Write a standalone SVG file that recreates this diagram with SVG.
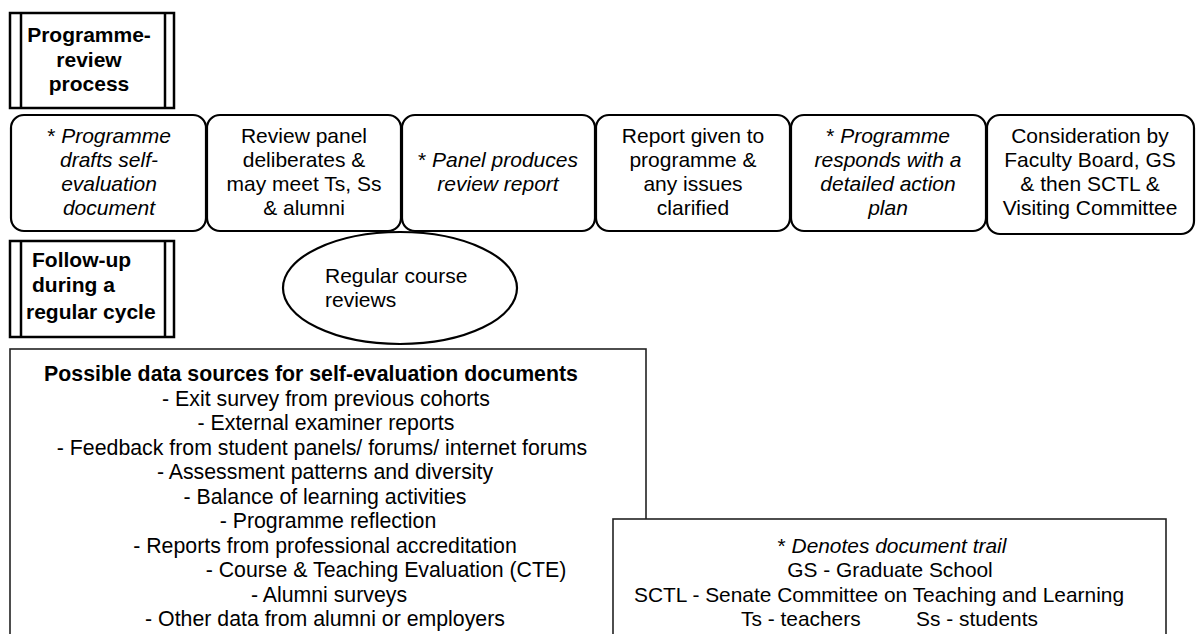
<svg xmlns="http://www.w3.org/2000/svg" width="1198" height="634" viewBox="0 0 1198 634">
<style>
text{font-family:"Liberation Sans",Arial,sans-serif;fill:#000}
.hdr{fill:#fff;stroke:#000;stroke-width:2.5}
.hl{stroke:#000;stroke-width:2.5}
.ht{font-size:21px;font-weight:bold}
.step{fill:#fff;stroke:#000;stroke-width:2.2}
.st{font-size:21px;text-anchor:middle}
.it{font-style:italic}
.box{fill:#fff;stroke:#222;stroke-width:1.6}
.dt{font-size:21.3px;text-anchor:middle}
.lt{font-size:20.9px;text-anchor:middle}
</style>
<rect width="1198" height="634" fill="#fff"/>
<g id="connectors"></g>

<g id="hdr-review">
<rect class="hdr" x="10" y="13" width="164" height="95"/>
<line class="hl" x1="21" y1="13" x2="21" y2="108"/>
<line class="hl" x1="165" y1="13" x2="165" y2="108"/>
<text class="ht" text-anchor="middle"><tspan x="89" y="42">Programme-</tspan><tspan x="89" y="67">review</tspan><tspan x="89" y="91">process</tspan></text>
</g>

<g id="hdr-followup">
<rect class="hdr" x="10" y="241" width="164" height="96"/>
<line class="hl" x1="21" y1="241" x2="21" y2="337"/>
<line class="hl" x1="165" y1="241" x2="165" y2="337"/>
<text class="ht"><tspan x="32" y="267">Follow-up</tspan><tspan x="32" y="292">during a</tspan><tspan x="26" y="319">regular cycle</tspan></text>
</g>

<g id="course-reviews">
<ellipse cx="400" cy="288" rx="117" ry="56" fill="#fff" stroke="#000" stroke-width="2.2"/>
<text style="font-size:21px"><tspan x="325" y="283">Regular course</tspan><tspan x="325" y="307">reviews</tspan></text>
</g>

<g id="step1">
<rect class="step" x="11" y="115" width="195" height="116" rx="13"/>
<text class="st"><tspan x="109" y="143">* <tspan class="it">Programme</tspan></tspan><tspan class="it" x="109" y="167">drafts self-</tspan><tspan class="it" x="109" y="191">evaluation</tspan><tspan class="it" x="109" y="215">document</tspan></text>
</g>
<g id="step2">
<rect class="step" x="207" y="115" width="194" height="116" rx="13"/>
<text class="st"><tspan x="304" y="143">Review panel</tspan><tspan x="304" y="167">deliberates &amp;</tspan><tspan x="304" y="191">may meet Ts, Ss</tspan><tspan x="304" y="215">&amp; alumni</tspan></text>
</g>
<g id="step3">
<rect class="step" x="402" y="115" width="193" height="116" rx="13"/>
<text class="st"><tspan x="498" y="167">* <tspan class="it">Panel produces</tspan></tspan><tspan class="it" x="498" y="191">review report</tspan></text>
</g>
<g id="step4">
<rect class="step" x="596" y="115" width="194" height="116" rx="13"/>
<text class="st"><tspan x="693" y="143">Report given to</tspan><tspan x="693" y="167">programme &amp;</tspan><tspan x="693" y="191">any issues</tspan><tspan x="693" y="215">clarified</tspan></text>
</g>
<g id="step5">
<rect class="step" x="791" y="115" width="195" height="116" rx="13"/>
<text class="st"><tspan x="888" y="143">* <tspan class="it">Programme</tspan></tspan><tspan class="it" x="888" y="167">responds with a</tspan><tspan class="it" x="888" y="191">detailed action</tspan><tspan class="it" x="888" y="215">plan</tspan></text>
</g>
<g id="step6">
<rect class="step" x="987" y="115" width="207" height="119" rx="13"/>
<text class="st"><tspan x="1090" y="143">Consideration by</tspan><tspan x="1090" y="167">Faculty Board, GS</tspan><tspan x="1090" y="191">&amp; then SCTL &amp;</tspan><tspan x="1090" y="215">Visiting Committee</tspan></text>
</g>

<g id="data-sources">
<rect class="box" x="10" y="349" width="636" height="300"/>
<text class="dt" x="311" y="381" font-weight="bold">Possible data sources for self-evaluation documents</text>
<text class="dt" x="326" y="405.5">- Exit survey from previous cohorts</text>
<text class="dt" x="326" y="430">- External examiner reports</text>
<text class="dt" x="322" y="454.5">- Feedback from student panels/ forums/ internet forums</text>
<text class="dt" x="325" y="479">- Assessment patterns and diversity</text>
<text class="dt" x="325" y="503.5">- Balance of learning activities</text>
<text class="dt" x="328" y="528">- Programme reflection</text>
<text class="dt" x="325" y="552.5">- Reports from professional accreditation</text>
<text class="dt" x="386" y="577">- Course &amp; Teaching Evaluation (CTE)</text>
<text class="dt" x="329" y="601.5">- Alumni surveys</text>
<text class="dt" x="325" y="626">- Other data from alumni or employers</text>
</g>

<g id="legend">
<rect class="box" x="613" y="519" width="553" height="130"/>
<text class="lt" x="892" y="552.5">* <tspan class="it">Denotes document trail</tspan></text>
<text class="lt" x="890" y="577">GS - Graduate School</text>
<text class="lt" x="879" y="601.5">SCTL - Senate Committee on Teaching and Learning</text>
<text style="font-size:20.9px"><tspan x="741" y="626">Ts - teachers</tspan><tspan x="916" y="626">Ss - students</tspan></text>
</g>
</svg>
